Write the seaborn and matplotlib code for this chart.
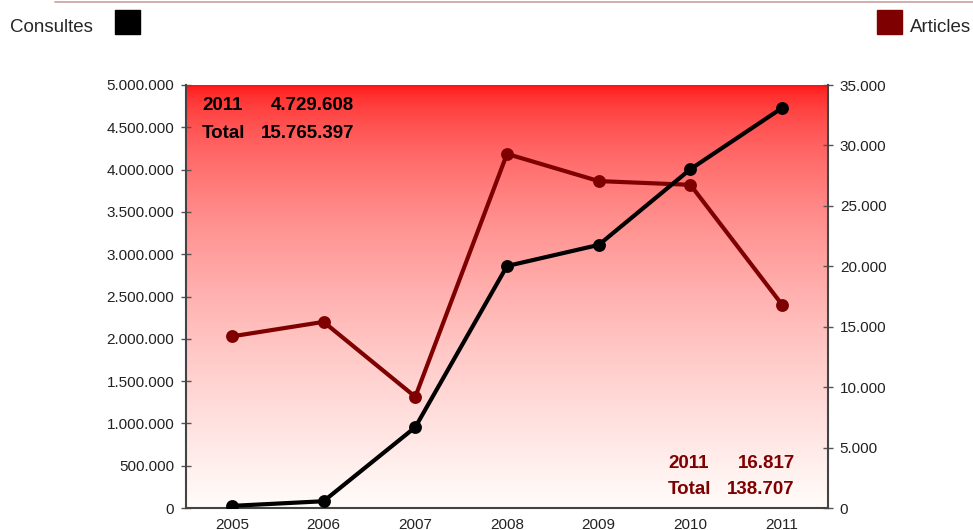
import matplotlib.pyplot as plt
import numpy as np
import pandas as pd
import seaborn as sns
from matplotlib.patches import Rectangle
from matplotlib.lines import Line2D
from matplotlib.ticker import FuncFormatter, FixedLocator

years = ["2005", "2006", "2007", "2008", "2009", "2010", "2011"]
consultes = [25000, 80000, 955000, 2860000, 3110000, 4005000, 4729608]
articles = [14200, 15400, 9200, 29300, 27050, 26740, 16817]

consultes_label = "Consultes"
articles_label = "Articles"
consultes_last = ("2011", "4.729.608")
consultes_total = ("Total", "15.765.397")
articles_last = ("2011", "16.817")
articles_total = ("Total", "138.707")

BLACK = "#000000"
DARK_RED = "#7f0000"
AXIS_GREY = "#555555"

sns.set_style("white")
plt.rcParams["font.family"] = ["Liberation Sans", "DejaVu Sans"]

df = pd.DataFrame({"year": years, "consultes": consultes, "articles": articles})

fig = plt.figure(figsize=(9.73, 5.30), dpi=100)
ax = fig.add_axes([186 / 973, 22 / 530, 642 / 973, 423 / 530])
ax2 = ax.twinx()

# gradient background: strong red on top, fading to white towards the bottom
t = np.linspace(0, 1, 256) ** 0.55
top = np.array([1.0, 0.07, 0.07])
bot = np.array([1.0, 0.99, 0.98])
img = t[:, None, None] * bot + (1 - t[:, None, None]) * top
ax2.imshow(img, extent=(-0.5, 6.5, 0, 35000), aspect="auto", zorder=0, origin="upper")

sns.pointplot(data=df, x="year", y="articles", ax=ax2, color=DARK_RED,
              markers="o", markersize=7, linewidth=3, zorder=3)
sns.pointplot(data=df, x="year", y="consultes", ax=ax, color=BLACK,
              markers="o", markersize=7, linewidth=3, zorder=3)

ax.set_zorder(ax2.get_zorder() + 1)
ax.patch.set_visible(False)

ax.set_xlim(-0.5, 6.5)
ax2.set_xlim(-0.5, 6.5)
ax.set_ylim(0, 5000000)
ax2.set_ylim(0, 35000)
ax.set_yticks(np.arange(0, 5000001, 500000))
ax2.set_yticks(np.arange(0, 35001, 5000))

fmt = FuncFormatter(lambda v, p: f"{int(round(v)):,}".replace(",", "."))
ax.yaxis.set_major_formatter(fmt)
ax2.yaxis.set_major_formatter(fmt)

ax.set_xlabel("")
ax.set_ylabel("")
ax2.set_xlabel("")
ax2.set_ylabel("")

ax.xaxis.set_minor_locator(FixedLocator(np.arange(-0.5, 7, 1)))
ax.tick_params(axis="x", which="major", length=0, pad=7, labelsize=11, labelcolor="#222222")
ax.tick_params(axis="x", which="minor", length=7, direction="inout", color=AXIS_GREY, width=1)
ax.tick_params(axis="y", which="major", length=7, direction="inout", color=AXIS_GREY,
               width=1, labelsize=11, labelcolor="#222222", pad=5)
ax2.tick_params(axis="y", which="major", length=7, direction="inout", color=AXIS_GREY,
                width=1, labelsize=11, labelcolor="#222222", pad=5)
ax2.tick_params(axis="x", length=0, labelbottom=False)

for s in ["top", "right"]:
    ax.spines[s].set_visible(False)
for s in ["left", "bottom"]:
    ax.spines[s].set_color("#444444")
    ax.spines[s].set_linewidth(1.5)
for s in ["top", "left", "bottom"]:
    ax2.spines[s].set_visible(False)
ax2.spines["right"].set_color("#444444")
ax2.spines["right"].set_linewidth(1.5)

# value boxes
tb = dict(fontsize=13.5, fontweight="bold", transform=fig.transFigure, va="center")
fig.text(202 / 973, 1 - 105 / 530, consultes_last[0], color=BLACK, ha="left", **tb)
fig.text(354 / 973, 1 - 105 / 530, consultes_last[1], color=BLACK, ha="right", **tb)
fig.text(202 / 973, 1 - 133 / 530, consultes_total[0], color=BLACK, ha="left", **tb)
fig.text(354 / 973, 1 - 133 / 530, consultes_total[1], color=BLACK, ha="right", **tb)
fig.text(668 / 973, 1 - 463 / 530, articles_last[0], color=DARK_RED, ha="left", **tb)
fig.text(795 / 973, 1 - 463 / 530, articles_last[1], color=DARK_RED, ha="right", **tb)
fig.text(668 / 973, 1 - 490 / 530, articles_total[0], color=DARK_RED, ha="left", **tb)
fig.text(795 / 973, 1 - 490 / 530, articles_total[1], color=DARK_RED, ha="right", **tb)

# header line and legend keys
fig.add_artist(Line2D([55 / 973, 1.0], [1 - 2 / 530, 1 - 2 / 530], color="#c9a0a0", lw=1.2))
fig.text(10 / 973, 1 - 27 / 530, consultes_label, fontsize=13.5, va="center", ha="left")
fig.add_artist(Rectangle((115 / 973, 1 - 34 / 530), 25 / 973, 24 / 530,
                         transform=fig.transFigure, color=BLACK))
fig.text(971 / 973, 1 - 27 / 530, articles_label, fontsize=13.5, va="center", ha="right")
fig.add_artist(Rectangle((877 / 973, 1 - 34 / 530), 25 / 973, 24 / 530,
                         transform=fig.transFigure, color=DARK_RED))

fig.savefig("out.png", dpi=100)
